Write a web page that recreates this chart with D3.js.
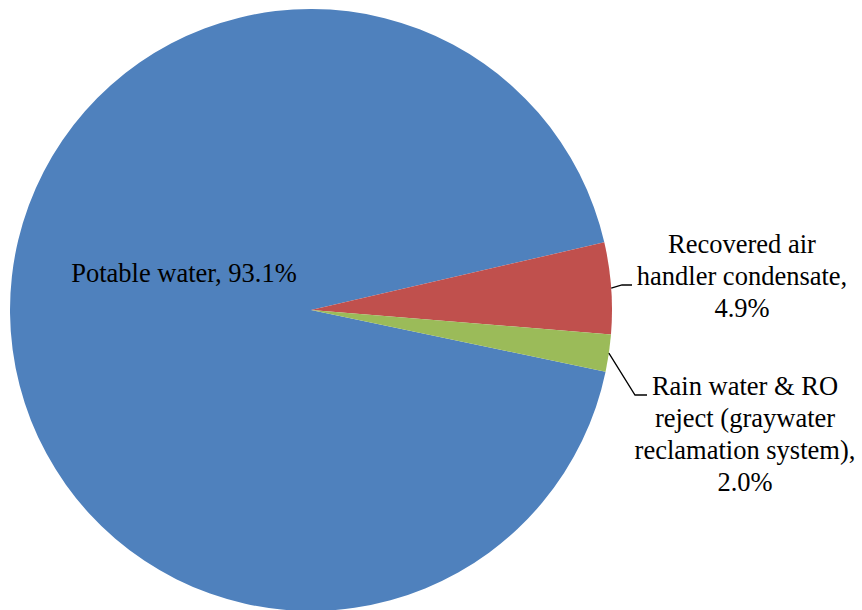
<!DOCTYPE html>
<html>
<head>
<meta charset="utf-8">
<script src="https://cdn.jsdelivr.net/npm/d3@7"></script>
<style>
  body { margin: 0; background: #fff; }
</style>
</head>
<body>
<div id="chart"></div>
<script>
// Data
const categories = ["Potable water", "Recovered air handler condensate", "Rain water & RO reject (graywater reclamation system)"];
const shares = [93.1, 4.9, 2.0];
const labelLines = [
    ["Potable water, 93.1%"],
    ["Recovered air", "handler condensate,", "4.9%"],
    ["Rain water & RO", "reject (graywater", "reclamation system),", "2.0%"]
];
const colors = ["#4F81BD", "#C0504D", "#9BBB59"];

const width = 862;
const height = 610;
const cx = 311, cy = 310, radius = 301;
const serif = "'Liberation Serif', 'Times New Roman', 'DejaVu Serif', serif";

const svg = d3.select('#chart')
    .append('svg')
    .attr('width', width)
    .attr('height', height);

// first slice starts a bit past 3 o'clock, like the Excel original
const startDeg = 101.85;
const pie = d3.pie()
    .sort(null)
    .value(d => d)
    .startAngle(startDeg * Math.PI / 180)
    .endAngle((startDeg + 360) * Math.PI / 180);

const arc = d3.arc().innerRadius(0).outerRadius(radius);

const g = svg.append('g').attr('transform', `translate(${cx},${cy})`);

const arcs = pie(shares);

g.selectAll('path')
    .data(arcs)
    .join('path')
    .attr('d', arc)
    .attr('fill', (d, i) => colors[i]);

// leader lines for the two small slices
const leaders = [
    null,
    { elbow: [622, 285], end: [632, 285] },
    { elbow: [635, 395], end: [647, 395] }
];
arcs.forEach((d, i) => {
    if (!leaders[i]) return;
    const mid = (d.startAngle + d.endAngle) / 2;
    const px = cx + Math.sin(mid) * radius;
    const py = cy - Math.cos(mid) * radius;
    svg.append('polyline')
        .attr('points', [[px, py], leaders[i].elbow, leaders[i].end].map(p => p.join(',')).join(' '))
        .attr('fill', 'none')
        .attr('stroke', '#000')
        .attr('stroke-width', 1.3);
});

// labels
const labelPos = [
    { x: 184, y: 282 },
    { x: 742, y: 253 },
    { x: 745, y: 395 }
];
const lineHeight = 32;

labelLines.forEach((lines, i) => {
    const t = svg.append('text')
        .attr('text-anchor', 'middle')
        .attr('font-family', serif)
        .attr('font-size', 26.5)
        .attr('fill', '#000')
        .attr('x', labelPos[i].x)
        .attr('y', labelPos[i].y);
    lines.forEach((line, j) => {
        t.append('tspan')
            .attr('x', labelPos[i].x)
            .attr('dy', j === 0 ? 0 : lineHeight)
            .text(line);
    });
});
</script>
</body>
</html>
